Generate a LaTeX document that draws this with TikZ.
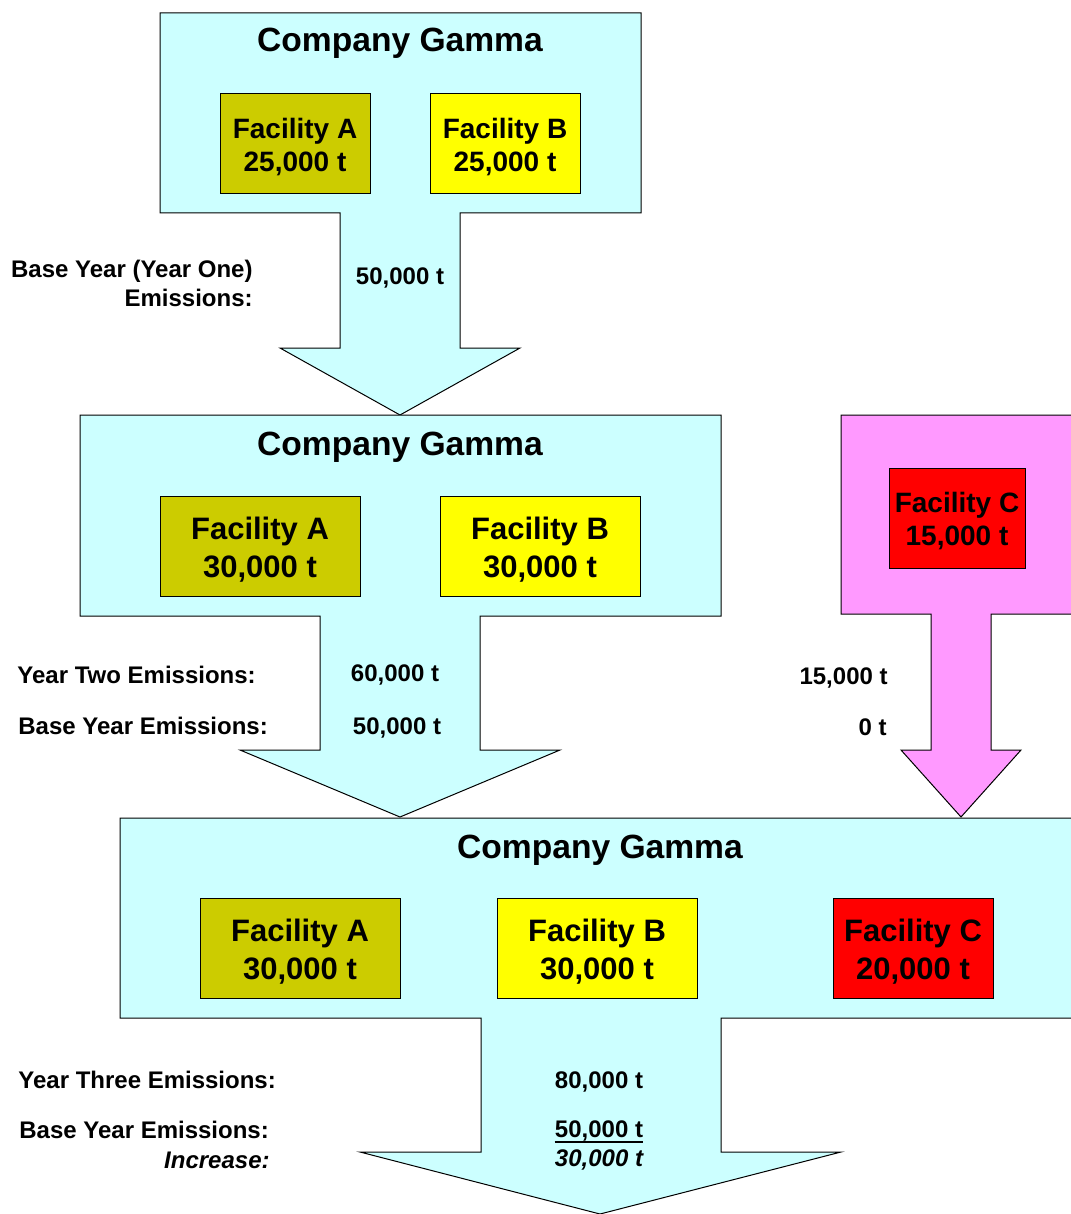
\documentclass[tikz,border=0pt]{standalone}
\usepackage{fontspec}
\setmainfont{Liberation Sans}
\usepackage{tikz}
\definecolor{gammacyan}{HTML}{CCFFFF}
\definecolor{newpink}{HTML}{FF99FF}
\definecolor{faolive}{HTML}{CCCC00}
\definecolor{fbyellow}{HTML}{FFFF00}
\definecolor{fcred}{HTML}{FF0000}
\newcommand{\topgap}{\rule{0pt}{0.97em}}

\begin{document}
\begin{tikzpicture}[x=0.5pt, y=-0.5pt]
	\tikzstyle{outline}=[draw, line width=0.5pt, line join=miter]
	\tikzstyle{company}=[font=\fontsize{16.8}{19}\selectfont\bfseries, anchor=base]
	\tikzstyle{small fac}=[draw, line width=0.5pt, rectangle, minimum width=75pt, minimum height=50pt, align=center, inner sep=0pt, font=\fontsize{14}{16.5}\selectfont\bfseries]
	\tikzstyle{big fac}=[draw, line width=0.5pt, rectangle, minimum width=100pt, minimum height=50pt, align=center, inner sep=0pt, font=\fontsize{15.5}{19}\selectfont\bfseries]
	\tikzstyle{lbl}=[inner sep=0pt, font=\fontsize{12}{14}\selectfont\bfseries]
	\useasboundingbox (0,0) rectangle (1070,1214);

	% year one
	\draw[outline, fill=gammacyan] (160,13) -- (641,13) -- (641,213) -- (460,213) -- (460,348) -- (520,348)
		-- (400,415) -- (280,348) -- (340,348) -- (340,213) -- (160,213) -- cycle;
	% year two
	\draw[outline, fill=gammacyan] (80,415) -- (721,415) -- (721,616) -- (480,616) -- (480,750) -- (560,750)
		-- (400,817) -- (240,750) -- (320,750) -- (320,616) -- (80,616) -- cycle;
	% acquired facility
	\draw[outline, fill=newpink] (1080,415) -- (841,415) -- (841,614) -- (931,614) -- (931,750) -- (901,750)
		-- (961,817) -- (1021,750) -- (991,750) -- (991,614) -- (1080,614);
	% year three
	\draw[outline, fill=gammacyan] (1080,818) -- (120,818) -- (120,1018) -- (481,1018) -- (481,1152) -- (360,1152)
		-- (600,1214) -- (841,1152) -- (721,1152) -- (721,1018) -- (1080,1018);

	\node[company] (g1) at (400,52) {Company Gamma};
	\node[small fac, fill=faolive] (a1) at (295,144) {\topgap Facility A\\25,000 t};
	\node[small fac, fill=fbyellow] (b1) at (505,144) {\topgap Facility B\\25,000 t};
	\node[lbl, anchor=base east, align=right] (base1) at (253,278) {Base Year (Year One)};
	\node[lbl, anchor=base east] (base1b) at (253,306) {Emissions:};
	\node[lbl, anchor=base] (v1) at (400,284) {50,000 t};

	\node[company] (g2) at (400,455) {Company Gamma};
	\node[big fac, fill=faolive] (a2) at (260,546) {\topgap Facility A\\30,000 t};
	\node[big fac, fill=fbyellow] (b2) at (540,546) {\topgap Facility B\\30,000 t};
	\node[small fac, fill=fcred, minimum width=68pt] (c2) at (957,518) {\topgap Facility C\\15,000 t};
	\node[lbl, anchor=base west] (yr2) at (17,683) {Year Two Emissions:};
	\node[lbl, anchor=base west] (base2) at (18,734) {Base Year Emissions:};
	\node[lbl, anchor=base] (v2) at (395,681) {60,000 t};
	\node[lbl, anchor=base] (w2) at (397,734) {50,000 t};
	\node[lbl, anchor=base east] (v2c) at (888,684) {15,000 t};
	\node[lbl, anchor=base east] (w2c) at (887,735) {0 t};

	\node[company] (g3) at (600,858) {Company Gamma};
	\node[big fac, fill=faolive] (a3) at (300,948) {\topgap Facility A\\30,000 t};
	\node[big fac, fill=fbyellow] (b3) at (597,948) {\topgap Facility B\\30,000 t};
	\node[big fac, fill=fcred, minimum width=80pt] (c3) at (913,948) {\topgap Facility C\\20,000 t};
	\node[lbl, anchor=base west] (yr3) at (18,1088) {Year Three Emissions:};
	\node[lbl, anchor=base west] (base3) at (19,1138) {Base Year Emissions:};
	\node[lbl, anchor=base east] (inc3) at (270,1168) {\itshape Increase:};
	\node[lbl, anchor=base] (v3) at (599,1088) {80,000 t};
	\node[lbl, anchor=base] (w3) at (599,1137) {50,000 t};
	\draw[line width=1pt] ([yshift=-2.3pt]w3.base west) -- ([yshift=-2.3pt]w3.base east);
	\node[lbl, anchor=base] (d3) at (599,1166) {\itshape 30,000 t};
\end{tikzpicture}
\end{document}
